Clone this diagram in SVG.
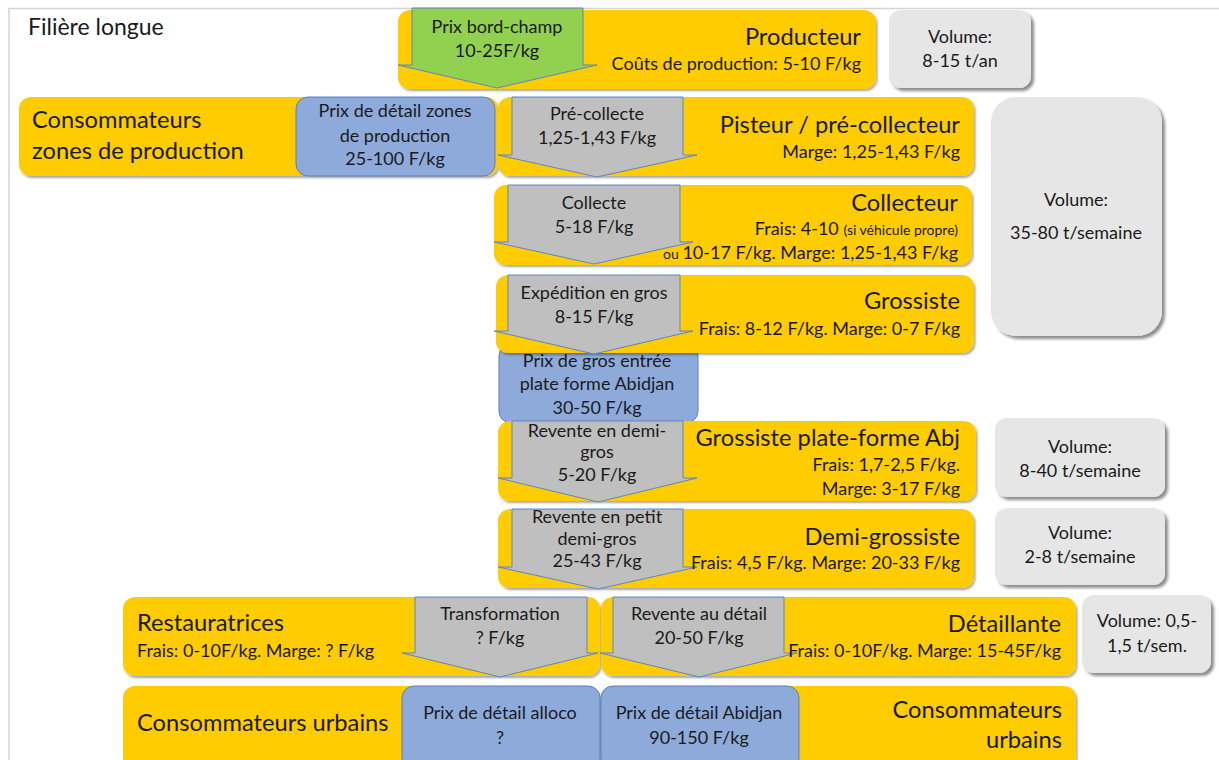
<svg xmlns="http://www.w3.org/2000/svg" width="1219" height="760" viewBox="0 0 1219 760">
  <defs>
    <filter id="sh" x="-5%" y="-10%" width="112%" height="130%">
      <feDropShadow dx="1.5" dy="2" stdDeviation="1.3" flood-color="#000" flood-opacity="0.35"/>
    </filter>
    <filter id="shv" x="-5%" y="-5%" width="115%" height="120%">
      <feDropShadow dx="3" dy="3" stdDeviation="1.6" flood-color="#000" flood-opacity="0.45"/>
    </filter>
  </defs>
  <style>
    text { font-family: Lato, "Liberation Sans", sans-serif; fill: #1a1a1a; }
    .y { fill: #FFCC00; filter: url(#sh); }
    .b { fill: #8EAADB; stroke: #5B7FB8; stroke-width: 1; }
    .v { fill: #E6E6E6; filter: url(#shv); }
    .a { fill: #BFBFBF; stroke: #5B86BD; stroke-width: 1; }
    .g { fill: #92D050; stroke: #5B86BD; stroke-width: 1; }
    .t { font-size: 23.7px; }
    .s { font-size: 18px; }
    .xs { font-size: 14px; }
    .m { text-anchor: middle; }
    .r { text-anchor: end; }
  </style>

  <!-- frame -->
  <path d="M9 760 V8.5 H1219" fill="none" stroke="#D4D4D4" stroke-width="1.5"/>
  <text x="28" y="35" font-size="23">Filière longue</text>

  <!-- Producteur -->
  <g id="producteur">
    <rect class="y" x="398" y="10" width="478" height="79" rx="12"/>
    <text class="t r" x="861" y="45">Producteur</text>
    <text class="s r" x="861" y="70">Coûts de production: 5-10 F/kg</text>
  </g>
  <g id="vol-producteur">
    <rect class="v" x="889" y="10" width="142" height="78" rx="12"/>
    <text class="s m" x="960" y="43">Volume:</text>
    <text class="s m" x="960" y="67">8-15 t/an</text>
  </g>

  <!-- Consommateurs zones de production -->
  <g id="conso-zones">
    <rect class="y" x="19" y="97" width="479" height="79" rx="12"/>
    <text class="t" x="32" y="128">Consommateurs</text>
    <text class="t" x="32" y="159">zones de production</text>
  </g>
  <g id="prix-detail-zones">
    <rect class="b" x="296" y="97" width="199" height="79" rx="12"/>
    <text class="s m" x="395" y="117">Prix de détail zones</text>
    <text class="s m" x="395" y="142">de production</text>
    <text class="s m" x="395" y="165">25-100 F/kg</text>
  </g>

  <!-- Pisteur -->
  <g id="pisteur">
    <rect class="y" x="498" y="97" width="476" height="79" rx="12"/>
    <text class="t r" x="960" y="133">Pisteur / pré-collecteur</text>
    <text class="s r" x="960" y="158">Marge: 1,25-1,43 F/kg</text>
  </g>
  <g id="vol-collecte">
    <rect class="v" x="991" y="97" width="171" height="239" rx="25"/>
    <text class="s m" x="1076" y="206">Volume:</text>
    <text class="s m" x="1076" y="239">35-80 t/semaine</text>
  </g>

  <!-- Collecteur -->
  <g id="collecteur">
    <rect class="y" x="494" y="185" width="478" height="80" rx="12"/>
    <text class="t r" x="958" y="211">Collecteur</text>
    <text class="s r" x="958" y="235">Frais: 4-10 <tspan class="xs">(si véhicule propre)</tspan></text>
    <text class="s r" x="958" y="259"><tspan class="xs">ou </tspan>10-17 F/kg. Marge: 1,25-1,43 F/kg</text>
  </g>

  <!-- Prix de gros (under the Grossiste box) -->
  <g id="prix-gros">
    <rect class="b" x="499" y="344" width="199" height="79" rx="12"/>
    <text class="s m" x="597" y="367">Prix de gros entrée</text>
    <text class="s m" x="597" y="390">plate forme Abidjan</text>
    <text class="s m" x="597" y="414">30-50 F/kg</text>
  </g>

  <!-- Grossiste -->
  <g id="grossiste">
    <rect class="y" x="496" y="275" width="478" height="78" rx="12"/>
    <text class="t r" x="960" y="309">Grossiste</text>
    <text class="s r" x="960" y="335">Frais: 8-12 F/kg. Marge: 0-7 F/kg</text>
  </g>

  <!-- Grossiste plate-forme -->
  <g id="grossiste-abj">
    <rect class="y" x="498" y="421" width="478" height="80" rx="12"/>
    <text class="t r" x="960" y="446">Grossiste plate-forme Abj</text>
    <text class="s r" x="960" y="471">Frais: 1,7-2,5 F/kg.</text>
    <text class="s r" x="960" y="495">Marge: 3-17 F/kg</text>
  </g>
  <g id="vol-abj">
    <rect class="v" x="995" y="418" width="170" height="79" rx="12"/>
    <text class="s m" x="1080" y="453">Volume:</text>
    <text class="s m" x="1080" y="477">8-40 t/semaine</text>
  </g>

  <!-- Demi-grossiste -->
  <g id="demi-grossiste">
    <rect class="y" x="498" y="509" width="476" height="79" rx="12"/>
    <text class="t r" x="960" y="545">Demi-grossiste</text>
  </g>
  <g id="vol-demi">
    <rect class="v" x="995" y="508" width="170" height="77" rx="12"/>
    <text class="s m" x="1080" y="539">Volume:</text>
    <text class="s m" x="1080" y="563">2-8 t/semaine</text>
  </g>

  <!-- Restauratrices -->
  <g id="restauratrices">
    <rect class="y" x="123" y="597" width="477" height="79" rx="12"/>
    <text class="t" x="137" y="631">Restauratrices</text>
    <text class="s" x="137" y="657">Frais: 0-10F/kg. Marge: ? F/kg</text>
  </g>

  <!-- Détaillante -->
  <g id="detaillante">
    <rect class="y" x="601" y="597" width="475" height="79" rx="12"/>
    <text class="t r" x="1061" y="632">Détaillante</text>
  </g>
  <g id="vol-detail">
    <rect class="v" x="1082" y="595" width="129" height="78" rx="12"/>
    <text class="s m" x="1147" y="627">Volume: 0,5-</text>
    <text class="s m" x="1147" y="652">1,5 t/sem.</text>
  </g>

  <!-- Consommateurs urbains -->
  <g id="conso-urbains-alloco">
    <rect class="y" x="123" y="686" width="477" height="84" rx="12"/>
    <text class="t" x="137" y="731">Consommateurs urbains</text>
    <rect class="b" x="402" y="686" width="198" height="84" rx="12"/>
    <text class="s m" x="500" y="719">Prix de détail alloco</text>
    <text class="s m" x="500" y="744">?</text>
  </g>
  <g id="conso-urbains-abidjan">
    <rect class="y" x="601" y="686" width="475" height="84" rx="12"/>
    <text class="t r" x="1062" y="718">Consommateurs</text>
    <text class="t r" x="1062" y="748">urbains</text>
    <rect class="b" x="601" y="686" width="198" height="84" rx="12"/>
    <text class="s m" x="699" y="719">Prix de détail Abidjan</text>
    <text class="s m" x="699" y="744">90-150 F/kg</text>
  </g>

  <!-- flow arrows between stages -->
  <g id="connectors">
    <path class="g" d="M412 8 H583 V65 H597 L497 88 L398 65 H412 Z"/>
    <text class="s m" x="497" y="33">Prix bord-champ</text>
    <text class="s m" x="497" y="57">10-25F/kg</text>

    <path class="a" d="M512 97 H683 V155 H697 L597 177 L498 155 H512 Z"/>
    <text class="s m" x="597" y="120">Pré-collecte</text>
    <text class="s m" x="597" y="144">1,25-1,43 F/kg</text>

    <path class="a" d="M508 185 H680 V242 H693 L594 264 L494 242 H508 Z"/>
    <text class="s m" x="594" y="209">Collecte</text>
    <text class="s m" x="594" y="233">5-18 F/kg</text>

    <path class="a" d="M508 275 H680 V331 H693 L594 354 L494 331 H508 Z"/>
    <text class="s m" x="594" y="299">Expédition en gros</text>
    <text class="s m" x="594" y="323">8-15 F/kg</text>

    <path class="a" d="M512 421 H683 V478 H697 L598 502 L498 478 H512 Z"/>
    <text class="s m" x="597" y="437">Revente en demi-</text>
    <text class="s m" x="597" y="458">gros</text>
    <text class="s m" x="597" y="481">5-20 F/kg</text>

    <path class="a" d="M512 509 H683 V567 H697 L598 589 L498 567 H512 Z"/>
    <text class="s m" x="597" y="523">Revente en petit</text>
    <text class="s m" x="597" y="545">demi-gros</text>
    <text class="s m" x="597" y="567">25-43 F/kg</text>

    <path class="a" d="M415 597 H587 V653 H598 L500 677 L402 653 H415 Z"/>
    <text class="s m" x="500" y="620">Transformation</text>
    <text class="s m" x="500" y="644">? F/kg</text>

    <path class="a" d="M613 597 H784 V653 H797 L699 677 L600 653 H613 Z"/>
    <text class="s m" x="699" y="620">Revente au détail</text>
    <text class="s m" x="699" y="644">20-50 F/kg</text>
  </g>

  <!-- margin lines drawn over the arrow heads -->
  <text class="s r" x="960" y="569">Frais: 4,5 F/kg. Marge: 20-33 F/kg</text>
  <text class="s r" x="1061" y="657">Frais: 0-10F/kg. Marge: 15-45F/kg</text>
</svg>
